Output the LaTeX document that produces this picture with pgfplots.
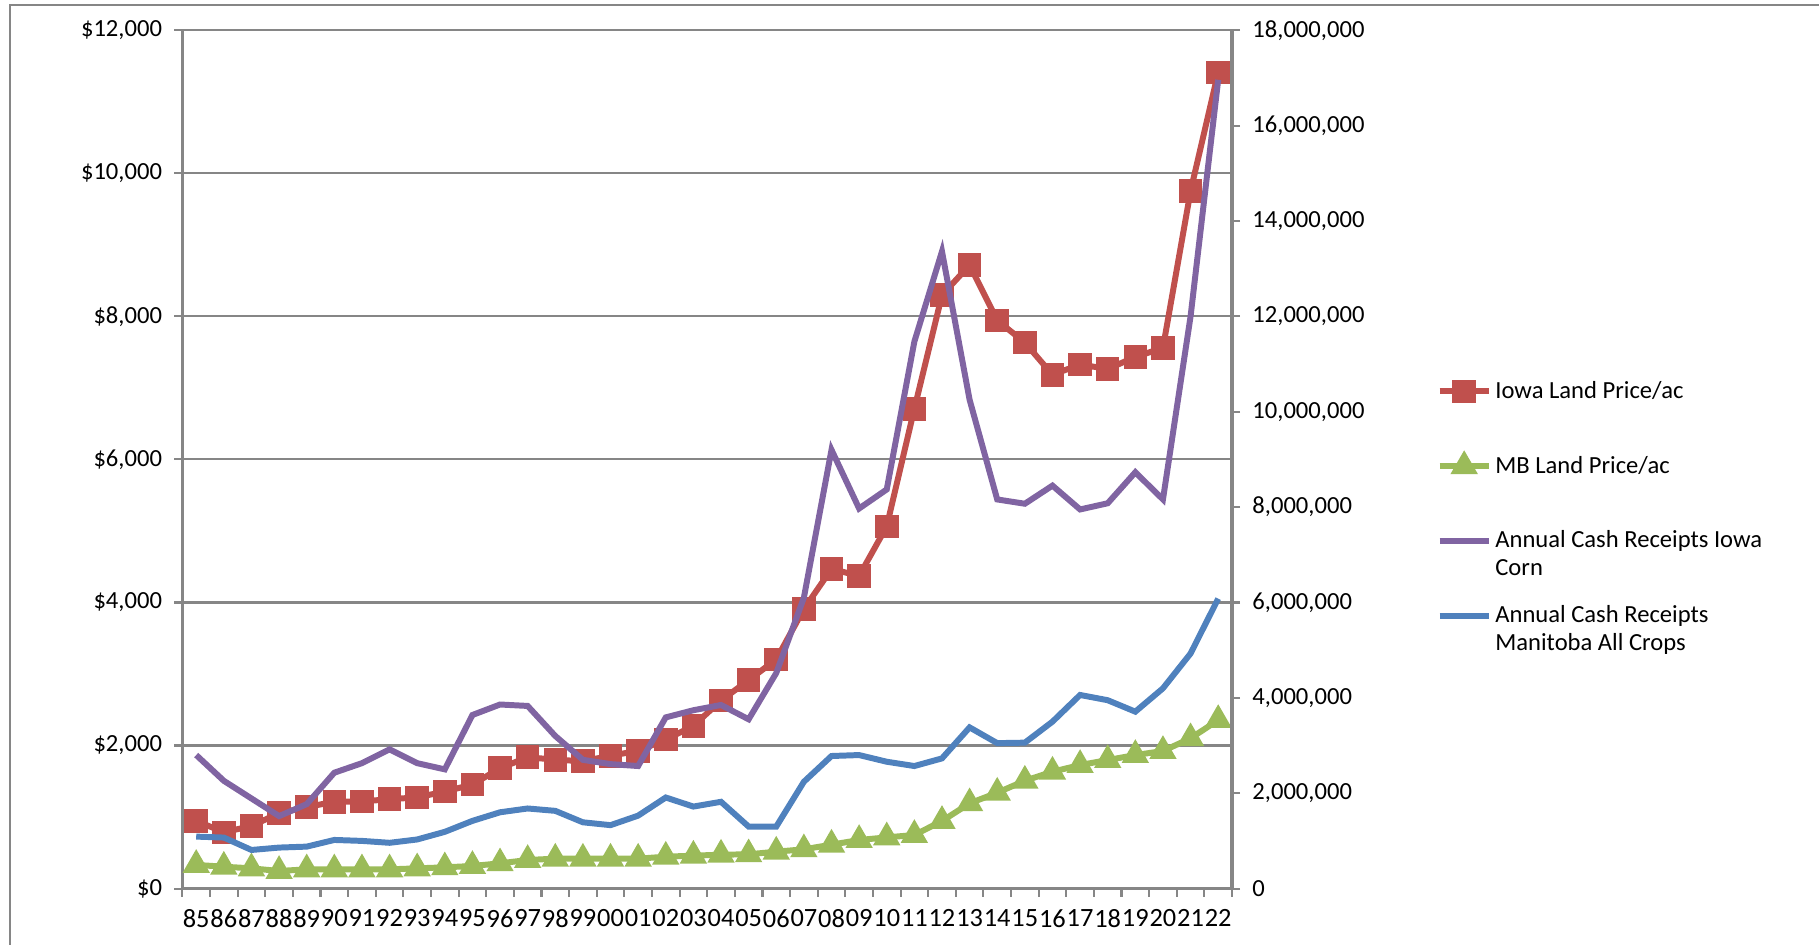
\documentclass[border=0pt]{standalone}
\usepackage{fontspec}
\setmainfont{Carlito}
\usepackage{pgfplots}
\pgfplotsset{compat=1.18}
\usepackage{pgfplotstable}

\definecolor{iowared}{HTML}{C0504D}
\definecolor{mbgreen}{HTML}{9BBB59}
\definecolor{cornpurple}{HTML}{8064A2}
\definecolor{mbblue}{HTML}{4F81BD}
\definecolor{axisgray}{HTML}{868686}

% Land prices, $ per acre (left axis)
\pgfplotstableread{
idx iowa mb
0  948   331
1  787   306
2  875   283
3  1054  246
4  1139  269
5  1214  269
6  1219  269
7  1249  269
8  1275  283
9  1356  297
10 1455  316
11 1682  353
12 1837  400
13 1801  418
14 1781  418
15 1857  418
16 1926  418
17 2083  446
18 2275  460
19 2629  474
20 2914  479
21 3204  516
22 3908  549
23 4468  614
24 4371  679
25 5064  716
26 6708  749
27 8296  945
28 8716  1192
29 7943  1340
30 7633  1508
31 7183  1634
32 7326  1727
33 7264  1797
34 7432  1867
35 7559  1923
36 9751  2101
37 11411 2356
}\landprice

% Annual cash receipts (right axis)
\pgfplotstableread{
idx corn manitoba
0  2800000  1090000
1  2260000  1070000
2  1890000  810000
3  1520000  860000
4  1770000  880000
5  2430000  1020000
6  2630000  1000000
7  2920000  960000
8  2630000  1030000
9  2500000  1190000
10 3640000  1420000
11 3860000  1600000
12 3830000  1680000
13 3200000  1630000
14 2700000  1390000
15 2610000  1330000
16 2570000  1530000
17 3590000  1910000
18 3740000  1720000
19 3850000  1820000
20 3550000  1300000
21 4520000  1300000
22 6100000  2240000
23 9200000  2780000
24 7970000  2800000
25 8370000  2660000
26 11470000 2570000
27 13360000 2730000
28 10250000 3380000
29 8160000  3050000
30 8070000  3060000
31 8450000  3500000
32 7950000  4060000
33 8080000  3950000
34 8730000  3710000
35 8160000  4200000
36 12000000 4930000
37 16960000 6080000
}\receipts

\pgfplotsset{
  chartbase/.style={
    at={(1.824cm,0.564cm)}, anchor=south west,
    scale only axis, width=10.496cm, height=8.584cm,
    xmin=-0.5, xmax=37.5, ymin=0,
    tick align=outside,
    major tick length=0.08cm,
    tick style={draw=axisgray, line width=0.6pt},
    axis line style={draw=axisgray, line width=0.9pt},
    tick label style={font=\fontsize{7}{8}\selectfont, text=black},
    /pgf/number format/fixed,
    /pgf/number format/precision=0,
    /pgf/number format/assume math mode=true,
    /pgf/number format/1000 sep={,},
    scaled y ticks=false,
  },
  iowastyle/.style={color=iowared, line width=1.7pt, mark=square*, mark size=2.5pt, mark options={solid}},
  mbstyle/.style={color=mbgreen, line width=1.7pt, mark=triangle*, mark size=2.8pt, mark options={solid}},
  cornstyle/.style={color=cornpurple, line width=1.7pt, no marks},
  mbcropstyle/.style={color=mbblue, line width=1.7pt, no marks},
}

\begin{document}
\begin{tikzpicture}[x=1cm,y=1cm]
\useasboundingbox (0,0) rectangle (18.19,9.45);
\draw[axisgray, line width=0.8pt] (0.10,-0.2) -- (0.10,9.40) -- (18.4,9.40);

% Land prices on the primary axis
\begin{axis}[
  chartbase,
  ymax=12000, ytick={0,2000,...,12000},
  yticklabel={\$\pgfmathprintnumber{\tick}},
  axis y line*=left, axis x line*=bottom,
  ymajorgrids, major grid style={draw=axisgray, line width=0.6pt},
  xtick={-0.5,0.5,...,37.5},
  x tick label as interval,
  xticklabels={85,86,87,88,89,90,91,92,93,94,95,96,97,98,99,00,01,02,03,04,05,06,07,08,09,10,11,12,13,14,15,16,17,18,19,20,21,22},
  xtick style={draw=axisgray, line width=0.6pt},
  x tick label style={font=\fontsize{7.5}{8}\selectfont, inner sep=0pt, yshift=-0.12cm},
]
\addplot[iowastyle] table[x=idx, y=iowa] {\landprice};
\addplot[mbstyle] table[x=idx, y=mb] {\landprice};
\end{axis}

% Cash receipts on the secondary axis
\begin{axis}[
  chartbase,
  ymax=18000000, ytick={0,2000000,...,18000000},
  axis y line*=right, axis x line=none,
  legend style={at={(1.1843,0.608)}, anchor=north west, draw=none, fill=none,
    font=\fontsize{7}{7.9}\selectfont, row sep=3pt, cells={align=left},
    nodes={inner xsep=1.05pt}},
  legend cell align=left,
  % sample line sits level with the first line of its entry
  legend image code/.code={%
    \draw[yshift=4.3pt, mark repeat=2, mark phase=2, #1] plot coordinates {(0cm,0cm) (0.245cm,0cm) (0.49cm,0cm)};},
]
\addlegendimage{iowastyle}
\addlegendentry{Iowa Land Price/ac\\\mbox{}}
\addlegendimage{mbstyle}
\addlegendentry{MB Land Price/ac\\\mbox{}}
\addplot[cornstyle] table[x=idx, y=corn] {\receipts};
\addlegendentry{Annual Cash Receipts Iowa\\Corn}
\addplot[mbcropstyle] table[x=idx, y=manitoba] {\receipts};
\addlegendentry{Annual Cash Receipts\\Manitoba All Crops}
\end{axis}
\end{tikzpicture}
\end{document}
